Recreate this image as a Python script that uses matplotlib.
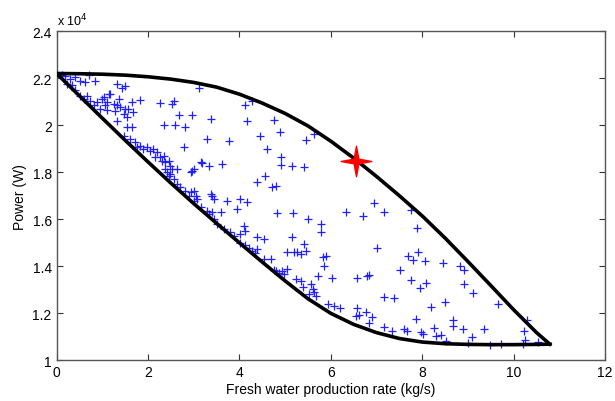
import matplotlib
matplotlib.use('Agg')
import matplotlib.pyplot as plt
from matplotlib.path import Path
from matplotlib.ticker import FuncFormatter
import numpy as np

plt.rcParams['font.family'] = ['Liberation Sans', 'DejaVu Sans']

# Pareto front bounds (power in units of 1e4 W)
upper_x = [0, 0.5, 1, 1.5, 2, 2.5, 3, 3.5, 4, 4.5, 5, 5.5, 6, 6.5, 7, 7.5, 8, 8.5, 9, 9.5, 10, 10.5, 10.79]
upper_y = [2.220, 2.219, 2.217, 2.213, 2.206, 2.196, 2.182, 2.162, 2.132, 2.094, 2.050, 1.997, 1.932, 1.860,
           1.782, 1.700, 1.614, 1.520, 1.420, 1.318, 1.215, 1.118, 1.069]

lower_x = [0, 0.5, 1, 1.5, 2, 2.5, 3, 3.5, 4, 4.5, 5, 5.5, 6, 6.5, 7, 7.5, 8, 8.5, 9, 9.5, 10, 10.5, 10.79]
lower_y = [2.220, 2.125, 2.030, 1.936, 1.844, 1.754, 1.667, 1.583, 1.500, 1.418, 1.338, 1.262, 1.200, 1.153,
           1.118, 1.093, 1.078, 1.071, 1.068, 1.067, 1.067, 1.068, 1.069]

# scattered solutions
sol_x = [0.19, 0.30, 0.41, 0.52, 0.63, 0.84, 1.32, 1.43, 1.50, 1.83, 2.27, 2.53, 2.56, 3.11, 2.67, 2.96,
         2.36, 2.60, 2.82, 3.37, 3.29, 3.77, 4.13, 4.27, 4.17, 4.76, 4.46, 4.89, 4.61, 4.90, 4.90, 5.16,
         5.42, 5.45, 5.63, 2.78, 3.15, 3.18, 2.96, 2.93, 3.62, 3.33, 4.39, 4.57, 4.72, 4.79, 3.40,
         0.22, 0.33, 0.41, 0.52, 0.59, 0.66, 0.73, 0.81, 0.88, 0.95, 0.99, 1.03, 1.10, 1.17, 1.25, 1.28,
         1.36, 1.39, 1.47, 1.54, 1.57, 1.65, 1.68, 1.54, 1.65, 1.47, 1.61, 1.72, 1.76, 1.83, 1.98, 2.05,
         2.12, 2.20, 2.27, 2.34, 2.38, 2.45, 2.49, 2.53, 2.42, 2.49, 2.56, 2.63, 2.71, 2.82, 2.93, 3.00,
         2.89, 3.07,
         1.06, 1.10, 1.32, 1.50, 1.32, 1.90, 2.16, 2.31, 2.38, 2.64, 2.45, 1.14, 0.70, 0.11,
         3.00, 3.04, 3.37,
         3.00, 3.44, 3.73, 4.02, 4.17, 3.40, 3.59, 3.95, 3.15, 3.29, 3.33, 3.44, 4.83, 5.18, 5.49, 3.51,
         3.66, 3.80, 3.88, 4.02, 4.10, 4.13, 4.39, 4.54, 4.02, 4.13, 4.21, 4.28, 4.39, 4.54, 4.68, 4.75,
         4.86, 4.94, 5.05, 5.16, 5.19, 5.34, 5.45, 5.41, 5.23, 5.34, 5.38, 5.56, 5.60, 5.67, 5.71,
         4.35, 4.79, 4.98, 5.05, 5.27,
         6.94, 6.33, 6.71, 7.17, 7.75, 7.88, 5.79, 5.79, 7.01, 5.82, 5.89, 5.85, 6.03, 6.57, 6.79, 6.84,
         7.68, 7.79, 7.90, 8.06, 8.45, 8.83, 8.91, 7.51, 7.75, 7.94, 8.08, 8.91, 9.11, 7.17, 7.39, 8.18,
         8.50, 9.65, 5.93, 6.07, 6.20, 6.58, 6.55, 6.77, 6.91, 6.84, 7.17, 7.33, 7.61, 7.66, 7.86, 7.97,
         8.01, 8.26, 8.30, 8.41, 8.52, 8.68, 8.67, 8.90, 9.09, 8.99, 9.36, 9.49, 9.73, 10.23, 10.24, 10.28,
         10.53, 10.20,
         5.52, 5.63, 6.62]
sol_y = [2.211, 2.197, 2.204, 2.19, 2.183, 2.19, 2.176, 2.157, 2.166, 2.109, 2.094, 2.091, 2.101, 2.157, 2.044, 2.045,
         2.001, 1.999, 1.991, 2.027, 1.942, 1.935, 2.084, 2.101, 2.02, 2.024, 1.953, 1.973, 1.899, 1.864, 1.833, 1.826,
         1.824, 1.939, 1.963, 1.906, 1.843, 1.838, 1.807, 1.803, 1.835, 1.828, 1.76, 1.786, 1.736, 1.743, 1.70,
         2.176, 2.169, 2.148, 2.126, 2.112, 2.126, 2.105, 2.084, 2.098, 2.07, 2.112, 2.119, 2.098, 2.133, 2.091, 2.062,
         2.112, 2.077, 2.048, 2.034, 2.069, 2.098, 2.055, 1.991, 1.991, 1.956, 1.942, 1.928, 1.906, 1.913, 1.906, 1.892,
         1.899, 1.885, 1.864, 1.871, 1.843, 1.85, 1.828, 1.814, 1.80, 1.793, 1.772, 1.75, 1.736, 1.722, 1.715, 1.722,
         1.70, 1.687,
         2.084, 2.063, 2.084, 2.07, 2.02, 1.90, 1.864, 1.85, 1.815, 1.815, 1.786, 2.134, 2.212, 2.212,
         1.814, 1.701, 1.708,
         1.679, 1.686, 1.679, 1.686, 1.672, 1.63, 1.633, 1.644, 1.651, 1.637, 1.623, 1.601, 1.627, 1.627, 1.601, 1.58,
         1.559, 1.545, 1.53, 1.537, 1.573, 1.552, 1.523, 1.516, 1.50, 1.49, 1.476, 1.465, 1.474, 1.43, 1.431, 1.385,
         1.372, 1.381, 1.389, 1.523, 1.459, 1.452, 1.467, 1.495, 1.346, 1.339, 1.311, 1.325, 1.303, 1.275, 1.36,
         1.458, 1.382, 1.367, 1.46, 1.46,
         1.669, 1.633, 1.616, 1.633, 1.641, 1.562, 1.58, 1.547, 1.477, 1.438, 1.445, 1.403, 1.349, 1.349, 1.357, 1.363,
         1.445, 1.428, 1.459, 1.424, 1.414, 1.40, 1.386, 1.384, 1.343, 1.306, 1.328, 1.325, 1.286, 1.268, 1.264, 1.225,
         1.25, 1.24, 1.24, 1.23, 1.221, 1.221, 1.19, 1.207, 1.183, 1.159, 1.14, 1.126, 1.133, 1.126, 1.176, 1.119,
         1.112, 1.136, 1.105, 1.108, 1.084, 1.173, 1.145, 1.133, 1.101, 1.074, 1.133, 1.065, 1.069, 1.126, 1.088, 1.17,
         1.079, 1.069,
         1.282, 1.289, 1.193]

best_x = [6.56]
best_y = [1.85]

# slim four-pointed star like the MATLAB marker in the figure
ang = np.arange(8) * np.pi / 4
rad = np.where(np.arange(8) % 2 == 0, 1.0, 0.22)
star_verts = np.column_stack([rad * np.sin(ang), rad * np.cos(ang)])
star = Path(np.vstack([star_verts, star_verts[:1]]), closed=True)

fig = plt.figure(figsize=(6.15, 4.02), dpi=100)
ax = fig.add_axes([0.092, 0.101, 0.892, 0.819])

ax.plot(sol_x, sol_y, '+', color='#2020ff', markersize=5.5, markeredgewidth=0.9, zorder=2)
ax.plot(upper_x, upper_y, '-', color='black', linewidth=2.6, zorder=3, solid_joinstyle='round')
ax.plot(lower_x, lower_y, '-', color='black', linewidth=2.6, zorder=3, solid_joinstyle='round')
ax.plot(best_x, best_y, marker=star, color='red', markersize=22, linestyle='none', zorder=4)

ax.set_xlim(0, 12)
ax.set_ylim(1, 2.4)
ax.set_xticks(range(0, 13, 2))
ax.set_yticks([1, 1.2, 1.4, 1.6, 1.8, 2.0, 2.2, 2.4])
ax.yaxis.set_major_formatter(FuncFormatter(lambda v, p: '%g' % round(v, 1)))
ax.tick_params(direction='in', top=True, right=True, length=4, labelsize=10, colors='#333333', labelcolor='black')
for s in ax.spines.values():
    s.set_color('#555555')
    s.set_linewidth(1.0)

ax.text(0.0, 1.008, 'x 10$^{4}$', transform=ax.transAxes, ha='left', va='bottom', fontsize=9)
ax.set_xlabel('Fresh water production rate (kg/s)', fontsize=10, labelpad=2)
ax.set_ylabel('Power (W)', fontsize=10)

fig.savefig('out.png', dpi=100)
